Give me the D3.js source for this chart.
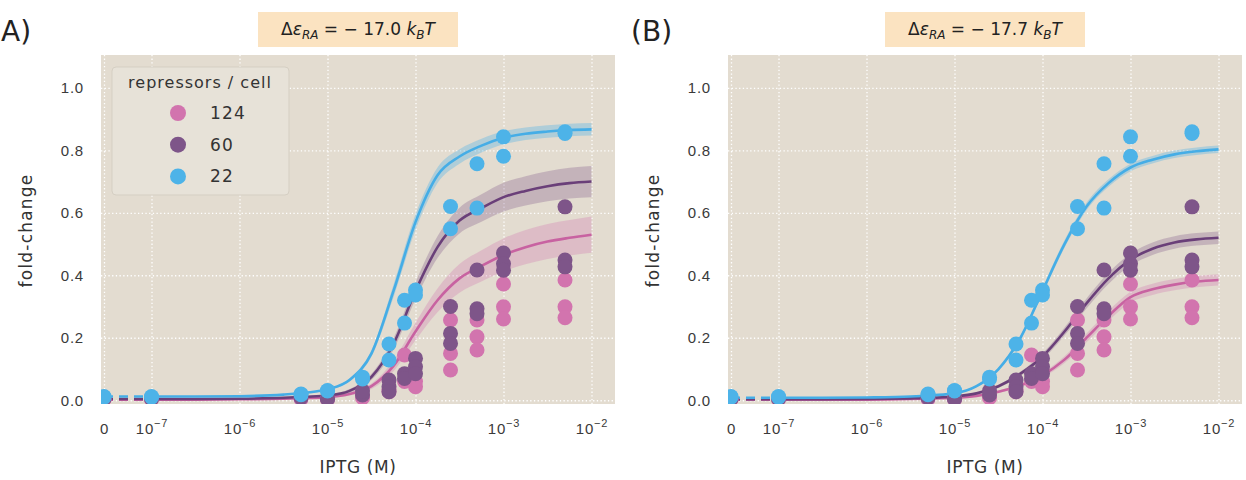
<!DOCTYPE html>
<html>
<head>
<meta charset="utf-8">
<script src="https://cdn.jsdelivr.net/npm/d3@7"></script>
<style>
  body { margin: 0; background: #fff; }
  svg { display: block; font-family: "DejaVu Sans", sans-serif; }
  .grid line { stroke: #fff; stroke-width: 1.3; stroke-dasharray: 1.3 2.4; }
  .grid .domain { display: none; }
  .tick text { fill: #3a3a3a; font-size: 15px; letter-spacing: 0.8px; }
</style>
</head>
<body>
<div id="chart"></div>
<script>
// IPTG concentrations (M) of the measurements
const iptg = [0, 1e-7, 5e-6, 1e-5, 2.5e-5, 5e-5, 7.5e-5, 1e-4, 2.5e-4, 5e-4, 1e-3, 5e-3];

// measured fold-change, replicates per concentration
const fc124 = [[0.003, 0.004], [0.003], [0.004], [0.005, 0.003], [0.012, 0.008], [0.027, 0.035],
  [0.145, 0.06], [0.06, 0.043], [0.257, 0.15, 0.097], [0.257, 0.203, 0.161], [0.372, 0.299, 0.26], [0.385, 0.299, 0.264]];
const fc60 = [[0.005], [0.005], [0.008], [0.004, 0.006], [0.017, 0.03], [0.065, 0.043, 0.027],
  [0.085, 0.07], [0.134, 0.107, 0.085], [0.3, 0.214, 0.182], [0.417, 0.293, 0.277], [0.471, 0.437, 0.416], [0.619, 0.449, 0.427]];
const fc22 = [[0.012, 0.01], [0.012, 0.01], [0.02, 0.018], [0.031, 0.03], [0.074, 0.068], [0.18, 0.129],
  [0.247, 0.32], [0.353, 0.337], [0.62, 0.549], [0.757, 0.615], [0.843, 0.781], [0.859, 0.854]];

// theory curves at log10(IPTG)
const theoryLogC = [-7, -6.5, -6, -5.5, -5.25, -5, -4.75, -4.5, -4.25, -4, -3.75, -3.5, -3.25, -3, -2.75, -2.5, -2.25, -2];

// panel A, de_RA = -17.0 kBT
const theoryA124 = [0.002, 0.002, 0.003, 0.005, 0.007, 0.01, 0.02, 0.045, 0.11, 0.22, 0.32, 0.39, 0.43, 0.465, 0.49, 0.508, 0.52, 0.53];
const theoryA60 = [0.004, 0.004, 0.005, 0.008, 0.011, 0.015, 0.03, 0.075, 0.18, 0.35, 0.49, 0.575, 0.615, 0.65, 0.67, 0.685, 0.695, 0.7];
const theoryA22 = [0.012, 0.012, 0.013, 0.018, 0.024, 0.035, 0.065, 0.15, 0.35, 0.57, 0.72, 0.78, 0.815, 0.84, 0.853, 0.86, 0.865, 0.867];
const bandA124 = [0.001, 0.001, 0.001, 0.001, 0.002, 0.003, 0.005, 0.009, 0.017, 0.028, 0.038, 0.046, 0.05, 0.053, 0.055, 0.056, 0.057, 0.058];
const bandA60 = [0.001, 0.001, 0.001, 0.002, 0.003, 0.004, 0.006, 0.01, 0.018, 0.027, 0.035, 0.041, 0.044, 0.046, 0.047, 0.048, 0.049, 0.05];
const bandA22 = [0.001, 0.001, 0.001, 0.001, 0.002, 0.003, 0.005, 0.01, 0.02, 0.025, 0.025, 0.023, 0.022, 0.021, 0.02, 0.02, 0.02, 0.02];

// panel B, de_RA = -17.7 kBT
const theoryB124 = [0.002, 0.002, 0.002, 0.004, 0.006, 0.008, 0.014, 0.027, 0.048, 0.08, 0.13, 0.2, 0.27, 0.33, 0.355, 0.37, 0.38, 0.385];
const theoryB60 = [0.003, 0.003, 0.004, 0.006, 0.008, 0.012, 0.022, 0.045, 0.085, 0.14, 0.22, 0.31, 0.39, 0.45, 0.485, 0.505, 0.515, 0.52];
const theoryB22 = [0.008, 0.008, 0.009, 0.012, 0.016, 0.022, 0.045, 0.1, 0.2, 0.35, 0.5, 0.62, 0.695, 0.745, 0.77, 0.787, 0.797, 0.803];
const bandB124 = [0.001, 0.001, 0.001, 0.001, 0.001, 0.002, 0.003, 0.004, 0.006, 0.008, 0.011, 0.014, 0.016, 0.017, 0.018, 0.018, 0.018, 0.018];
const bandB60 = [0.001, 0.001, 0.001, 0.001, 0.002, 0.002, 0.003, 0.005, 0.007, 0.01, 0.013, 0.016, 0.018, 0.019, 0.02, 0.02, 0.02, 0.02];
const bandB22 = [0.001, 0.001, 0.001, 0.001, 0.002, 0.002, 0.003, 0.005, 0.008, 0.01, 0.012, 0.012, 0.012, 0.012, 0.012, 0.012, 0.012, 0.012];

const repressors = ["124", "60", "22"];
const xTicks = [0, 1e-7, 1e-6, 1e-5, 1e-4, 1e-3, 1e-2];
const yTicks = [0, 0.2, 0.4, 0.6, 0.8, 1.0];

const colors = {
  "124": { point: "#d274ae", line: "#c862a1", band: "rgba(210,116,174,0.30)" },
  "60": { point: "#7e5589", line: "#6a3f79", band: "rgba(126,85,137,0.30)" },
  "22": { point: "#4db3e8", line: "#45ade6", band: "rgba(77,179,232,0.35)" },
};

class TitrationPanel {
  /**
   * One fold-change vs IPTG panel
   */
  constructor(_config, _data) {
    this.config = {
      svg: _config.svg,
      left: _config.left,
      top: _config.top || 55,
      width: _config.width || 514,
      height: _config.height || 349,
      label: _config.label,
      labelX: _config.labelX,
      epsilon: _config.epsilon,
      showLegend: _config.showLegend || false,
    };
    this.data = _data;
    this.initVis();
  }

  initVis() {
    let vis = this;
    const cfg = vis.config;

    // symlog-like x: linear between 0 and 1e-7, log10 above
    vis.linWidth = 0.54;
    vis.tf = (c) => (c <= 1e-7 ? (c / 1e-7) * vis.linWidth : vis.linWidth + Math.log10(c / 1e-7));
    vis.xLin = d3.scaleLinear().domain([-0.034, vis.linWidth + 5.267]).range([0, cfg.width]);
    vis.xPos = (c) => vis.xLin(vis.tf(c));

    vis.yScale = d3.scaleLinear().domain([-0.012, 1.105]).range([cfg.height, 0]);

    vis.chart = cfg.svg.append("g").attr("transform", `translate(${cfg.left},${cfg.top})`);

    vis.chart.append("rect")
      .attr("width", cfg.width)
      .attr("height", cfg.height)
      .attr("fill", "#e3dcd0");

    const clipId = "clip-" + cfg.label.replace(/\W/g, "");
    vis.chart.append("clipPath").attr("id", clipId)
      .append("rect").attr("width", cfg.width).attr("height", cfg.height);

    // grid + tick labels
    vis.xAxisG = vis.chart.append("g")
      .attr("class", "grid")
      .attr("transform", `translate(0,${cfg.height})`)
      .call(d3.axisBottom(vis.xLin).tickValues(xTicks.map(vis.tf)).tickSize(-cfg.height).tickPadding(19));

    vis.xAxisG.selectAll(".tick text").each(function (d, i) {
      const t = d3.select(this).text(null);
      if (xTicks[i] === 0) {
        t.append("tspan").text("0");
      } else {
        t.append("tspan").text("10");
        t.append("tspan").attr("dy", -7).style("font-size", "11px").text("−" + Math.round(-Math.log10(xTicks[i])));
      }
    });

    vis.chart.append("g")
      .attr("class", "grid")
      .call(d3.axisLeft(vis.yScale).tickValues(yTicks).tickSize(-cfg.width).tickPadding(17).tickFormat(d3.format(".1f")));

    // axis titles
    vis.chart.append("text")
      .attr("x", cfg.width / 2)
      .attr("y", cfg.height + 69)
      .attr("text-anchor", "middle")
      .style("font-size", "17px")
      .style("letter-spacing", "0.6px")
      .attr("fill", "#333")
      .text("IPTG (M)");

    vis.chart.append("text")
      .attr("transform", `translate(${-69},${cfg.height / 2 + 1}) rotate(-90)`)
      .attr("text-anchor", "middle")
      .style("font-size", "17px")
      .style("letter-spacing", "1.2px")
      .attr("fill", "#333")
      .text("fold-change");

    // panel letter and energy box
    cfg.svg.append("text")
      .attr("x", cfg.labelX)
      .attr("y", 41)
      .style("font-size", "28px")
      .attr("fill", "#222")
      .text(cfg.label);

    const cx = cfg.left + cfg.width / 2;
    cfg.svg.append("rect")
      .attr("x", cx - 100)
      .attr("y", 12)
      .attr("width", 200)
      .attr("height", 35)
      .attr("fill", "#fbe3c1");

    const t = cfg.svg.append("text")
      .attr("x", cx)
      .attr("y", 35)
      .attr("text-anchor", "middle")
      .attr("fill", "#222")
      .style("font-size", "17px");
    t.append("tspan").text("Δ");
    t.append("tspan").style("font-style", "italic").text("ε");
    t.append("tspan").style("font-style", "italic").style("font-size", "12px").attr("dy", 4).text("RA");
    t.append("tspan").attr("dy", -4).text(" = − " + cfg.epsilon + " ");
    t.append("tspan").style("font-style", "italic").text("k");
    t.append("tspan").style("font-style", "italic").style("font-size", "12px").attr("dy", 4).text("B");
    t.append("tspan").style("font-style", "italic").attr("dy", -4).text("T");

    vis.plot = vis.chart.append("g").attr("clip-path", `url(#${clipId})`);

    vis.renderVis();
  }

  renderVis() {
    let vis = this;

    const area = d3.area()
      .x((d) => vis.xPos(Math.pow(10, d.logc)))
      .y0((d) => vis.yScale(d.fc - d.err))
      .y1((d) => vis.yScale(d.fc + d.err))
      .curve(d3.curveMonotoneX);

    const line = d3.line()
      .x((d) => vis.xPos(Math.pow(10, d.logc)))
      .y((d) => vis.yScale(d.fc))
      .curve(d3.curveMonotoneX);

    repressors.forEach((r) => {
      const s = vis.data.theory[r];
      const pts = theoryLogC.map((logc, i) => ({ logc, fc: s.fc[i], err: s.err[i] }));

      vis.plot.append("path").attr("d", area(pts)).attr("fill", colors[r].band);
      vis.plot.append("path").attr("d", line(pts))
        .attr("fill", "none").attr("stroke", colors[r].line).attr("stroke-width", 2.6);

      // dashed piece across the linear part of the axis
      vis.plot.append("line")
        .attr("x1", vis.xPos(0)).attr("x2", vis.xPos(1e-7))
        .attr("y1", vis.yScale(s.fc[0])).attr("y2", vis.yScale(s.fc[0]))
        .attr("stroke", colors[r].line).attr("stroke-width", 2.6)
        .attr("stroke-dasharray", "9 6");
    });

    repressors.forEach((r) => {
      const pts = [];
      iptg.forEach((c, i) => vis.data.points[r][i].forEach((v) => pts.push({ c, v })));
      vis.plot.selectAll(null)
        .data(pts)
        .join("circle")
        .attr("cx", (d) => vis.xPos(d.c))
        .attr("cy", (d) => vis.yScale(d.v))
        .attr("r", 7.5)
        .attr("fill", colors[r].point);
    });

    if (vis.config.showLegend) {
      const lg = vis.chart.append("g").attr("transform", "translate(11,12)");
      lg.append("rect")
        .attr("width", 177)
        .attr("height", 128)
        .attr("rx", 4)
        .attr("fill", "#e7e2d8")
        .attr("stroke", "#d5cfc3");
      lg.append("text")
        .attr("x", 88)
        .attr("y", 21)
        .attr("text-anchor", "middle")
        .style("font-size", "16px")
        .style("letter-spacing", "1px")
        .attr("fill", "#333")
        .text("repressors / cell");
      repressors.forEach((r, i) => {
        const yy = 46 + i * 31.7;
        lg.append("circle").attr("cx", 66).attr("cy", yy).attr("r", 8).attr("fill", colors[r].point);
        lg.append("text")
          .attr("x", 98)
          .attr("y", yy + 6)
          .style("font-size", "17px")
          .style("letter-spacing", "1.2px")
          .attr("fill", "#333")
          .text(r);
      });
    }
  }
}

const svg = d3.select("#chart").append("svg").attr("width", 1246).attr("height", 480);

new TitrationPanel(
  { svg, left: 101, label: "A)", labelX: 1, epsilon: "17.0", showLegend: true },
  {
    points: { "124": fc124, "60": fc60, "22": fc22 },
    theory: {
      "124": { fc: theoryA124, err: bandA124 },
      "60": { fc: theoryA60, err: bandA60 },
      "22": { fc: theoryA22, err: bandA22 },
    },
  }
);

new TitrationPanel(
  { svg, left: 728, label: "(B)", labelX: 631, epsilon: "17.7" },
  {
    points: { "124": fc124, "60": fc60, "22": fc22 },
    theory: {
      "124": { fc: theoryB124, err: bandB124 },
      "60": { fc: theoryB60, err: bandB60 },
      "22": { fc: theoryB22, err: bandB22 },
    },
  }
);
</script>
</body>
</html>
